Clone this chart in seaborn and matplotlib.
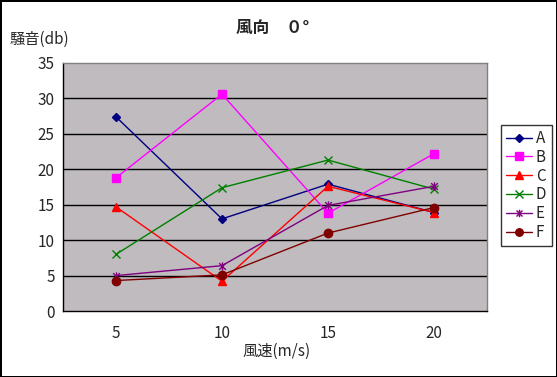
import matplotlib
matplotlib.use("Agg")
import matplotlib.pyplot as plt
import seaborn as sns
import pandas as pd
from matplotlib.path import Path

categories = ["5", "10", "15", "20"]
series_names = ["A", "B", "C", "D", "E", "F"]
A = [27.4, 13.0, 17.9, 13.9]
B = [18.8, 30.6, 13.8, 22.2]
C = [14.7, 4.2, 17.6, 13.9]
D = [8.0, 17.4, 21.3, 17.2]
E = [5.0, 6.4, 14.9, 17.6]
F = [4.3, 5.1, 11.0, 14.6]
values = [A, B, C, D, E, F]
yticks = [0, 5, 10, 15, 20, 25, 30, 35]

colors = ["#000080", "#FF00FF", "#FF0000", "#008000", "#800080", "#800000"]
star = Path([(0, -1), (0, 1), (-0.8, -0.8), (0.8, 0.8), (-0.8, 0.8), (0.8, -0.8)],
            [Path.MOVETO, Path.LINETO, Path.MOVETO, Path.LINETO, Path.MOVETO, Path.LINETO])
markers = ["D", "s", "^", "x", star, "o"]
msizes = [4.5, 6, 6, 6, 6, 6]

sns.set_theme(style="white")
plt.rcParams["font.family"] = ["Noto Sans CJK JP", "DejaVu Sans"]

fig = plt.figure(figsize=(5.57, 3.77), dpi=100)
fig.patch.set_facecolor("white")
fig.patch.set_edgecolor("black")
fig.patch.set_linewidth(2)
ax = fig.add_axes([0.1131, 0.175, 0.7612, 0.658])
ax.set_facecolor("#BFBBBF")

rows = []
for name, vals in zip(series_names, values):
    for i, (c, v) in enumerate(zip(categories, vals)):
        rows.append({"series": name, "pos": i, "cat": c, "value": v})
df = pd.DataFrame(rows)

for name, col, mk, ms in zip(series_names, colors, markers, msizes):
    sub = df[df["series"] == name]
    sns.lineplot(data=sub, x="pos", y="value", ax=ax, color=col, marker=mk,
                 markersize=ms, linewidth=1, markeredgecolor=col,
                 markerfacecolor=col, markeredgewidth=1, label=name)

ax.set_ylim(0, 35)
ax.set_xlim(-0.5, len(categories) - 0.5)
ax.set_yticks(yticks)
ax.set_yticklabels([str(t) for t in yticks], fontsize=11)
ax.set_xticks(range(len(categories)))
ax.set_xticklabels(categories, fontsize=11)
ax.set_xticks([i + 0.5 for i in range(len(categories) - 1)], minor=True)
ax.tick_params(axis="x", which="major", length=0, pad=10)
ax.tick_params(axis="x", which="minor", direction="in", length=5, width=1, color="black")
ax.tick_params(axis="y", direction="in", length=4, width=1, color="black", pad=6)
for t in yticks[1:-1]:
    ax.axhline(t, color="black", linewidth=1, zorder=1)
ax.grid(False)
ax.set_xlabel("")
ax.set_ylabel("")
ax.spines["left"].set_color("black")
ax.spines["bottom"].set_color("black")
ax.spines["top"].set_color("#808080")
ax.spines["right"].set_color("#808080")
for s in ax.spines.values():
    s.set_linewidth(1)

leg = ax.legend(loc="center left", bbox_to_anchor=(0.899, 0.342, 0.085, 0.332),
                bbox_transform=fig.transFigure, frameon=True, fancybox=False,
                fontsize=11, handlelength=1.7, handletextpad=0.25,
                borderpad=0.35, labelspacing=0.12, borderaxespad=0,
                markerscale=0.9)
leg.get_frame().set_edgecolor("black")
leg.get_frame().set_linewidth(1)

fig.text(0.49, 0.925, "風向　０°", ha="center", va="center", fontsize=12, fontweight="bold")
fig.text(0.018, 0.897, "騒音(db)", ha="left", va="center", fontsize=11)
fig.text(0.497, 0.068, "風速(m/s)", ha="center", va="center", fontsize=11)

fig.savefig("out.png", dpi=100)
